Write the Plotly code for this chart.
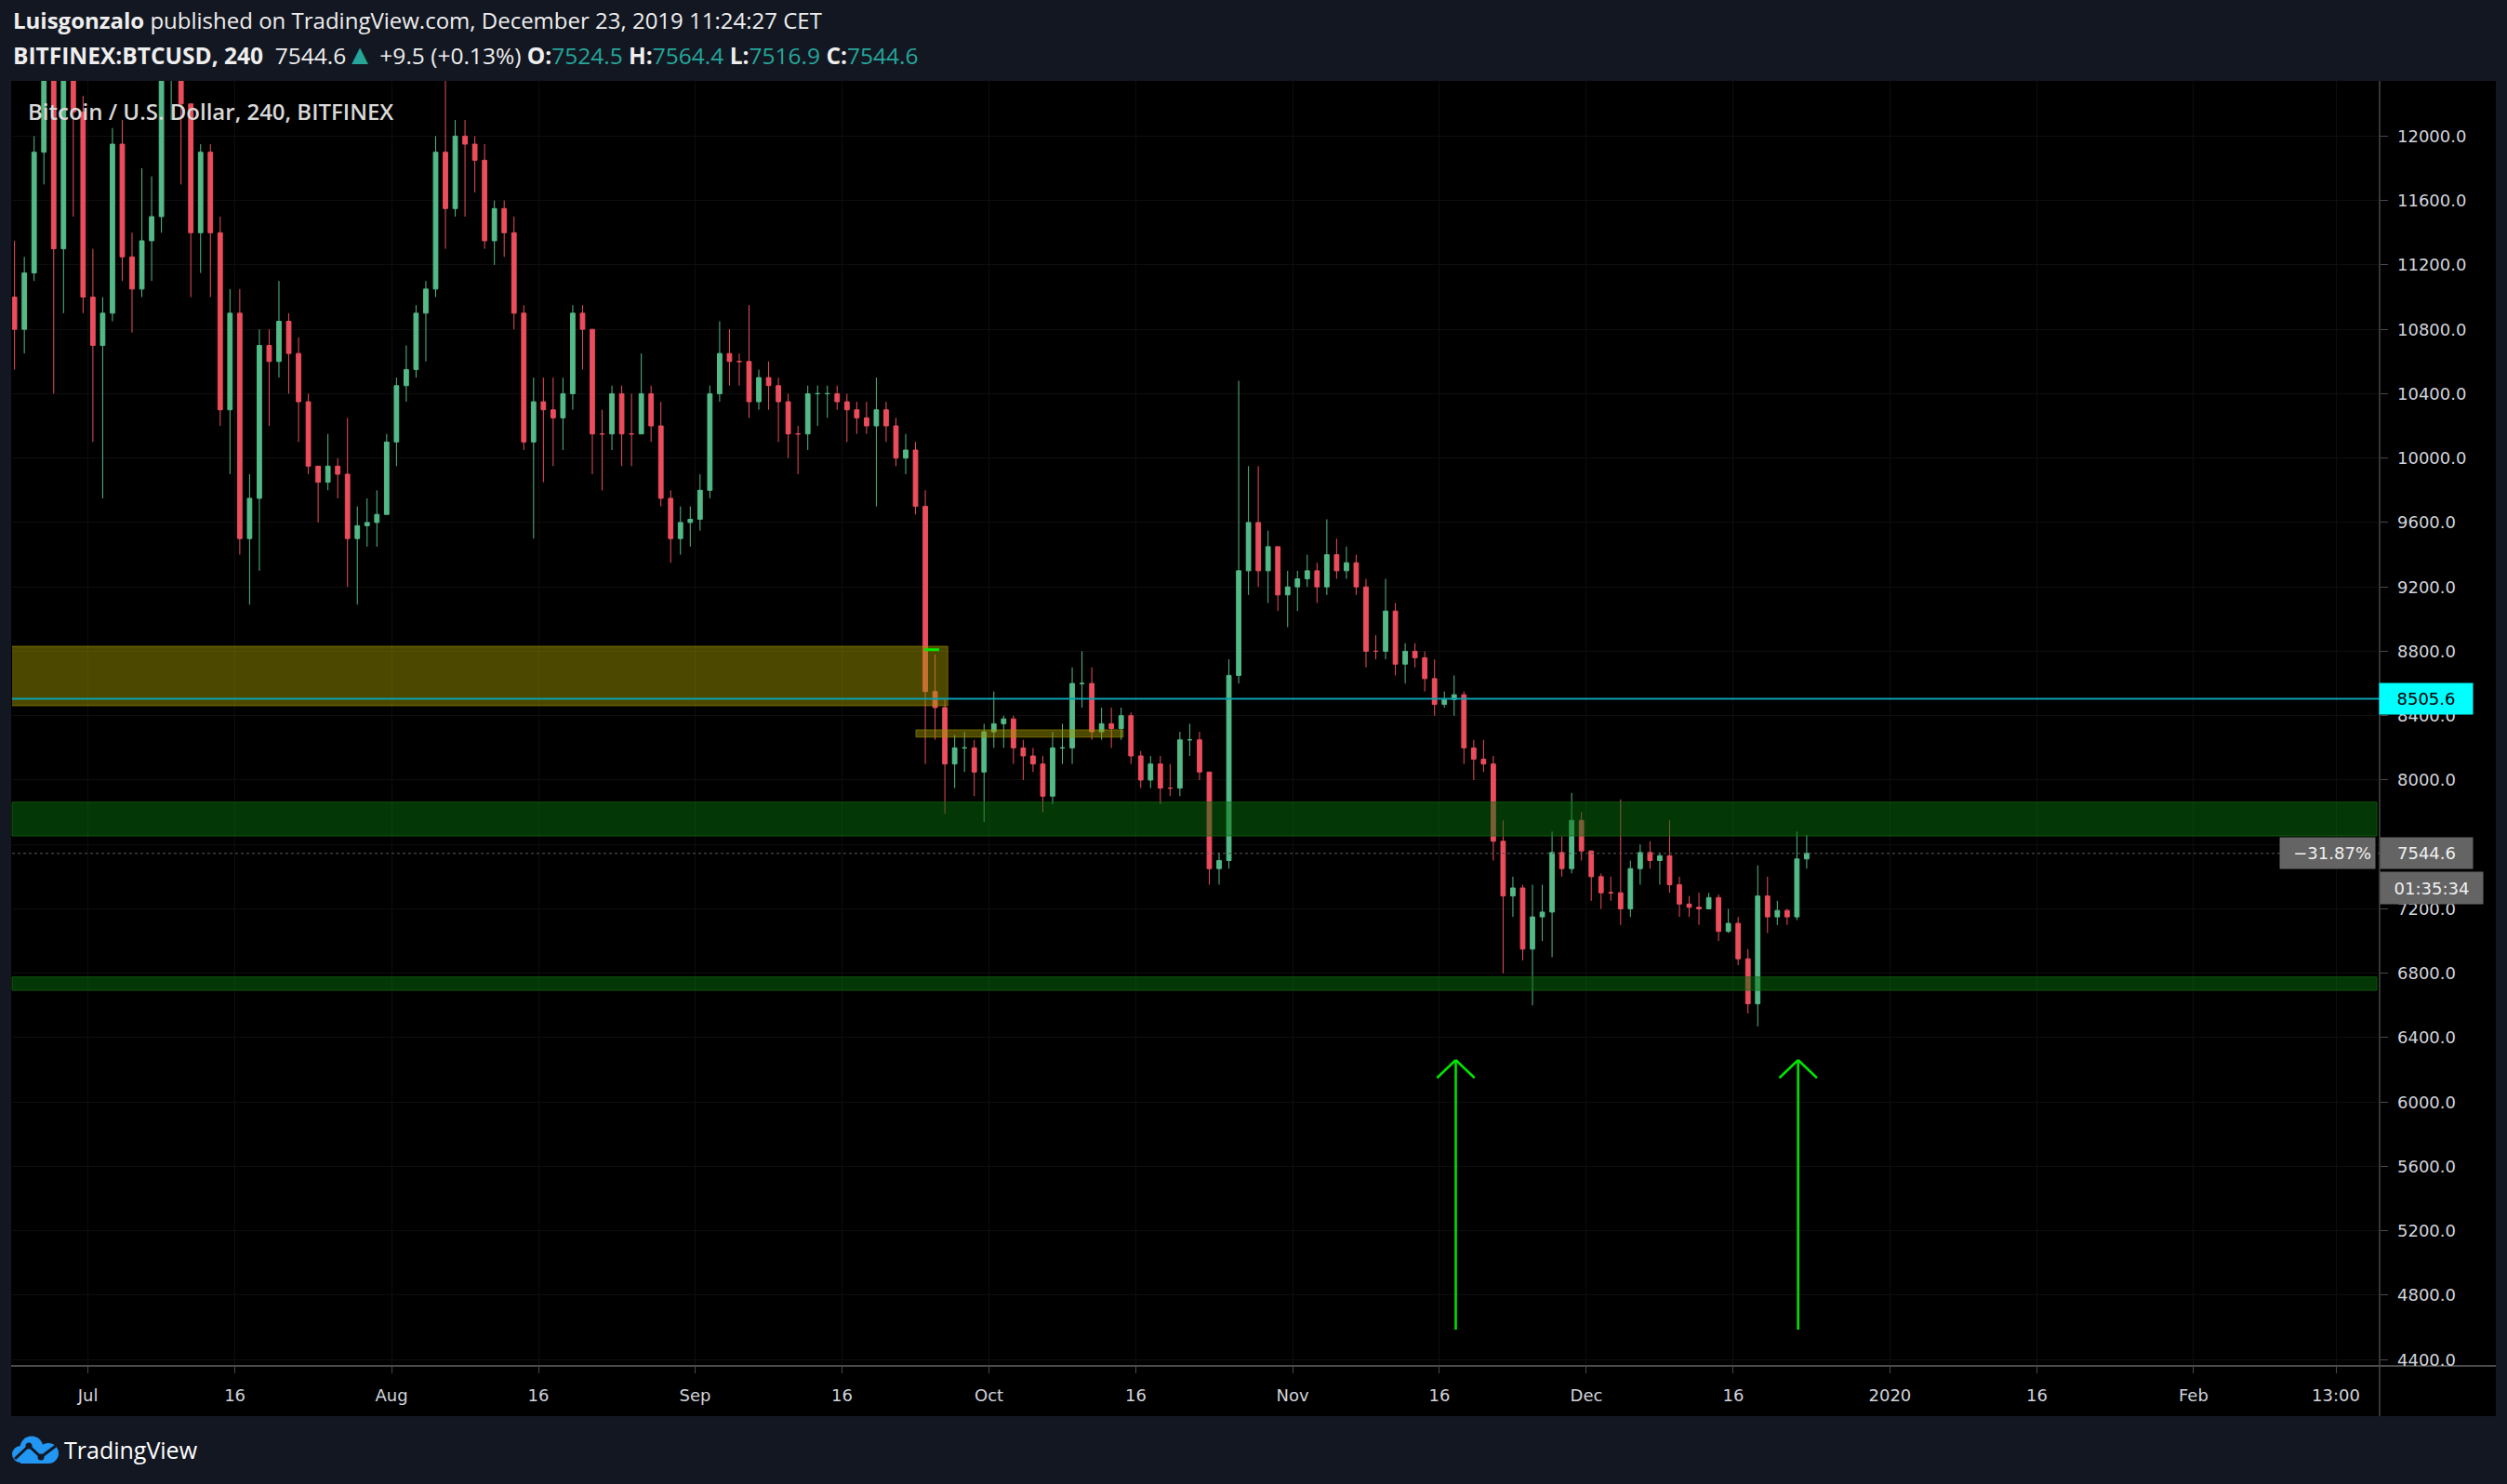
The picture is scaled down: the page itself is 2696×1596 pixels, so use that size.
import pandas as pd
import plotly.graph_objects as go

# ---------------- data (daily OHLC, BITFINEX BTCUSD) ----------------
OPEN_JUN = [11000, 10800, 11150, 11900, 12950, 11300, 12450, 12150]
HIGH_JUN = [11350, 11250, 12000, 13900, 13400, 12500, 12700, 12250]
LOW_JUN = [10550, 10650, 11100, 11700, 10400, 10900, 11500, 10900]
CLOSE_JUN = [10800, 11150, 11900, 12950, 11300, 12450, 12150, 11000]

OPEN_JUL = [11000, 10700, 10900, 11950, 11250, 11050, 11350, 11500, 12400, 12700, 12200, 11400, 11900, 11400, 10300, 10900,
            9500, 9750, 10700, 10600, 10850, 10650, 10350, 9950, 9850, 9950, 9900, 9500, 9580, 9600, 9650]
HIGH_JUL = [11300, 11000, 12050, 12100, 11400, 11800, 11750, 12500, 12900, 13300, 12200, 11950, 11950, 11500, 11050, 11050,
            9900, 10800, 10800, 11100, 10900, 10750, 10400, 9950, 10150, 10000, 10250, 9700, 9750, 9800, 10150]
LOW_JUL = [10100, 9750, 10850, 11100, 10780, 11000, 11100, 11400, 12100, 11700, 11000, 11150, 11000, 10200, 9900, 9400,
           9090, 9300, 10200, 10500, 10400, 10100, 9900, 9600, 9800, 9750, 9200, 9090, 9450, 9450, 9650]
CLOSE_JUL = [10700, 10900, 11950, 11250, 11050, 11350, 11500, 12400, 12700, 12200, 11400, 11900, 11400, 10300, 10900, 9500,
             9750, 10700, 10600, 10850, 10650, 10350, 9950, 9850, 9950, 9900, 9500, 9580, 9600, 9650, 10100]

OPEN_AUG = [10100, 10450, 10550, 10900, 11050, 11900, 11550, 12000, 11950, 11850, 11350, 11550, 11400, 10900, 10100, 10350,
            10300, 10250, 10400, 10900, 10800, 10150, 10150, 10400, 10150, 10150, 10400, 10200, 9750, 9500, 9600]
HIGH_AUG = [10500, 10700, 10950, 11100, 12000, 12450, 12100, 12100, 12000, 11950, 11600, 11600, 11500, 10950, 10500, 10500,
            10500, 10500, 10950, 10950, 10800, 10300, 10450, 10450, 10400, 10650, 10450, 10350, 9800, 9700, 9700]
LOW_AUG = [9950, 10350, 10500, 10600, 11000, 11300, 11500, 11500, 11650, 11300, 11200, 11250, 10800, 10050, 9500, 9850,
           9950, 10050, 10300, 10550, 9900, 9800, 10050, 9950, 9950, 10150, 10100, 9700, 9350, 9400, 9450]
CLOSE_AUG = [10450, 10550, 10900, 11050, 11900, 11550, 12000, 11950, 11850, 11350, 11550, 11400, 10900, 10100, 10350, 10300,
             10250, 10400, 10900, 10800, 10150, 10150, 10400, 10150, 10150, 10400, 10200, 9750, 9500, 9600, 9620]

OPEN_SEP = [9620, 9800, 10400, 10650, 10600, 10600, 10350, 10500, 10450, 10350, 10150, 10150, 10400, 10400, 10400,
            10350, 10300, 10250, 10200, 10300, 10200, 10000, 10050, 9700, 8550, 8450, 8100, 8200, 8200, 8050]
HIGH_SEP = [9900, 10450, 10850, 10800, 10650, 10950, 10550, 10600, 10500, 10400, 10200, 10450, 10450, 10450, 10450,
            10400, 10350, 10350, 10500, 10350, 10250, 10150, 10100, 9800, 8780, 8500, 8280, 8300, 8250, 8350]
LOW_SEP = [9550, 9750, 10350, 10450, 10450, 10250, 10300, 10300, 10100, 10000, 9900, 10050, 10200, 10250, 10300,
           10100, 10150, 10150, 9700, 10100, 9950, 9900, 9650, 8100, 8250, 7790, 7950, 8050, 7900, 7740]
CLOSE_SEP = [9800, 10400, 10650, 10600, 10600, 10350, 10500, 10450, 10350, 10150, 10150, 10400, 10400, 10400, 10350,
             10300, 10250, 10200, 10300, 10200, 10000, 10050, 9700, 8550, 8450, 8100, 8200, 8200, 8050, 8300]

OPEN_OCT = [8300, 8350, 8380, 8200, 8150, 8100, 7900, 8200, 8200, 8600, 8600, 8300, 8350, 8320, 8400, 8150,
            8000, 8100, 7950, 7950, 8250, 8250, 8050, 7450, 7500, 8650, 9300, 9600, 9300, 9450, 9150]
HIGH_OCT = [8550, 8400, 8400, 8250, 8200, 8150, 8300, 8350, 8700, 8800, 8700, 8450, 8450, 8450, 8420, 8180,
            8150, 8150, 8100, 8300, 8350, 8300, 8050, 7550, 8750, 10480, 9950, 9950, 9550, 9450, 9300]
LOW_OCT = [8200, 8200, 8100, 8000, 8050, 7800, 7850, 8100, 8100, 8450, 8250, 8250, 8200, 8250, 8100, 7950,
           7950, 7850, 7900, 7900, 8150, 8000, 7350, 7350, 7450, 8600, 9150, 9200, 9100, 9050, 8950]
CLOSE_OCT = [8350, 8380, 8200, 8150, 8100, 7900, 8200, 8200, 8600, 8600, 8300, 8350, 8320, 8400, 8150, 8000,
             8100, 7950, 7950, 8250, 8250, 8050, 7450, 7500, 8650, 9300, 9600, 9300, 9450, 9150, 9200]

OPEN_NOV = [9200, 9250, 9300, 9200, 9400, 9300, 9350, 9200, 8800, 8800, 9050, 8720, 8800, 8760, 8630,
            8470, 8500, 8530, 8200, 8130, 8100, 7620, 7280, 7330, 6950, 7150, 7180, 7550, 7450, 7750]
HIGH_NOV = [9300, 9400, 9350, 9620, 9500, 9450, 9400, 9250, 8900, 9250, 9100, 8850, 8850, 8800, 8750,
            8550, 8650, 8550, 8250, 8250, 8150, 7750, 7400, 7350, 7350, 7350, 7680, 7650, 7920, 7800]
LOW_NOV = [9050, 9200, 9100, 9150, 9250, 9250, 9150, 8700, 8750, 8750, 8650, 8600, 8700, 8550, 8400,
           8450, 8400, 8100, 8000, 8050, 7500, 6800, 7150, 6880, 6600, 7000, 6900, 7400, 7420, 7500]
CLOSE_NOV = [9250, 9300, 9200, 9400, 9300, 9350, 9200, 8800, 8800, 9050, 8720, 8800, 8760, 8630, 8470,
             8500, 8530, 8200, 8130, 8100, 7620, 7280, 7330, 6950, 7150, 7180, 7550, 7450, 7750, 7560]

OPEN_DEC = [7560, 7400, 7300, 7300, 7200, 7450, 7550, 7500, 7530, 7350, 7230, 7210, 7200, 7270, 7060, 7110,
            6890, 6610, 7280, 7150, 7190, 7150, 7510]
HIGH_DEC = [7560, 7420, 7400, 7880, 7500, 7600, 7620, 7550, 7750, 7400, 7280, 7300, 7300, 7290, 7200, 7150,
            6950, 7470, 7400, 7250, 7200, 7680, 7660]
LOW_DEC = [7250, 7200, 7250, 7100, 7150, 7350, 7450, 7350, 7300, 7150, 7150, 7100, 7200, 7000, 7050, 6850,
           6550, 6470, 7050, 7100, 7100, 7130, 7450]
CLOSE_DEC = [7400, 7300, 7300, 7200, 7450, 7550, 7500, 7530, 7350, 7230, 7210, 7200, 7270, 7060, 7110, 6890,
             6610, 7280, 7150, 7190, 7150, 7510, 7544.6]

FIRST_DAY, LAST_DAY = "2019-06-23", "2019-12-23"

Y_TICKS = [4400, 4800, 5200, 5600, 6000, 6400, 6800, 7200, 7600, 8000, 8400, 8800, 9200, 9600,
           10000, 10400, 10800, 11200, 11600, 12000]
Y_TICK_LABELS = ["4400.0", "4800.0", "5200.0", "5600.0", "6000.0", "6400.0", "6800.0", "7200.0", "7600.0",
                 "8000.0", "8400.0", "8800.0", "9200.0", "9600.0", "10000.0", "10400.0", "10800.0", "11200.0",
                 "11600.0", "12000.0"]
X_TICKS = ["2019-07-01", "2019-07-16", "2019-08-01", "2019-08-16", "2019-09-01", "2019-09-16", "2019-10-01",
           "2019-10-16", "2019-11-01", "2019-11-16", "2019-12-01", "2019-12-16", "2020-01-01", "2020-01-16",
           "2020-02-01", "2020-02-15 13:00"]
X_TICK_LABELS = ["Jul", "16", "Aug", "16", "Sep", "16", "Oct", "16", "Nov", "16", "Dec", "16", "2020", "16",
                 "Feb", "13:00"]

# drawings on the chart
RES_LEVEL = 8505.6
LAST_PRICE = 7544.6
YELLOW_BOX = ["2019-06-20", "2019-09-26 19:00", 8462, 8831]
YELLOW_STRIP = ["2019-09-23 13:00", "2019-10-14 17:00", 8267, 8312]
GREEN_MARK = ["2019-09-24 10:00", "2019-09-25 22:00", 8810]
GREEN_BANDS = [[7653, 7863], [6694, 6777]]
ARROW_X = ["2019-11-17 16:00", "2019-12-22 15:00"]
ARROW_TIP, ARROW_TAIL, ARROW_WING = 6261, 4586, 6150

OPEN = OPEN_JUN + OPEN_JUL + OPEN_AUG + OPEN_SEP + OPEN_OCT + OPEN_NOV + OPEN_DEC
HIGH = HIGH_JUN + HIGH_JUL + HIGH_AUG + HIGH_SEP + HIGH_OCT + HIGH_NOV + HIGH_DEC
LOW = LOW_JUN + LOW_JUL + LOW_AUG + LOW_SEP + LOW_OCT + LOW_NOV + LOW_DEC
CLOSE = CLOSE_JUN + CLOSE_JUL + CLOSE_AUG + CLOSE_SEP + CLOSE_OCT + CLOSE_NOV + CLOSE_DEC
DATES = pd.date_range(FIRST_DAY, LAST_DAY, freq="D") + pd.Timedelta(hours=12)

# ---------------- layout geometry ----------------
W, H = 2696, 1596
PL, PR, PT, PB = 13, 2559, 87, 1469


def px_x(px):
    return (px - PL) / (PR - PL)


def px_y(py):
    return (PB - py) / (PB - PT)


UP, DOWN = "#53b987", "#eb4d5c"
TEAL = "#26a69a"
TXT = "#d1d4dc"

fig = go.Figure()
fig.add_trace(go.Candlestick(
    x=DATES, open=OPEN, high=HIGH, low=LOW, close=CLOSE,
    increasing=dict(line=dict(color=UP, width=1), fillcolor=UP),
    decreasing=dict(line=dict(color=DOWN, width=1), fillcolor=DOWN),
    whiskerwidth=0, hoverinfo="skip", showlegend=False,
))

shapes = []
# chart black panel
shapes.append(dict(type="rect", xref="paper", yref="paper", x0=px_x(12), x1=px_x(2684), y0=px_y(1523), y1=1,
                   fillcolor="#000000", line=dict(width=0), layer="below"))
# axis lines
shapes.append(dict(type="line", xref="paper", yref="paper", x0=1, x1=1, y0=px_y(1523), y1=1,
                   line=dict(color="#363636", width=2)))
shapes.append(dict(type="line", xref="paper", yref="paper", x0=px_x(12), x1=px_x(2684), y0=0, y1=0,
                   line=dict(color="#4a4a4a", width=2)))
# zones
shapes.append(dict(type="rect", xref="x", yref="y", x0=YELLOW_BOX[0], x1=YELLOW_BOX[1], y0=YELLOW_BOX[2],
                   y1=YELLOW_BOX[3], fillcolor="rgba(160,150,0,0.48)", line=dict(color="rgba(160,150,0,0.6)", width=1),
                   layer="above"))
shapes.append(dict(type="rect", xref="x", yref="y", x0=YELLOW_STRIP[0], x1=YELLOW_STRIP[1], y0=YELLOW_STRIP[2],
                   y1=YELLOW_STRIP[3], fillcolor="rgba(160,150,0,0.48)", line=dict(color="rgba(160,150,0,0.6)", width=1),
                   layer="above"))
for lo, hi in GREEN_BANDS:
    shapes.append(dict(type="rect", xref="paper", yref="y", x0=0, x1=px_x(2556), y0=lo, y1=hi,
                       fillcolor="rgba(8,110,12,0.5)", line=dict(color="rgba(20,110,20,0.7)", width=1),
                       layer="above"))
shapes.append(dict(type="line", xref="x", yref="y", x0=GREEN_MARK[0], x1=GREEN_MARK[1], y0=GREEN_MARK[2],
                   y1=GREEN_MARK[2], line=dict(color="#00e600", width=3)))
# horizontal levels
shapes.append(dict(type="line", xref="paper", yref="y", x0=0, x1=1, y0=RES_LEVEL, y1=RES_LEVEL,
                   line=dict(color="#0aa0ad", width=2)))
shapes.append(dict(type="line", xref="paper", yref="y", x0=0, x1=1, y0=LAST_PRICE, y1=LAST_PRICE,
                   line=dict(color="#5a5a5a", width=1, dash="dot")))
# arrows
wing = pd.Timedelta(hours=46)
for ax in ARROW_X:
    t = pd.Timestamp(ax)
    green = dict(color="#00e600", width=2.5)
    shapes.append(dict(type="line", xref="x", yref="y", x0=t, x1=t, y0=ARROW_TAIL, y1=ARROW_TIP, line=green))
    shapes.append(dict(type="line", xref="x", yref="y", x0=t - wing, x1=t, y0=ARROW_WING, y1=ARROW_TIP, line=green))
    shapes.append(dict(type="line", xref="x", yref="y", x0=t + wing, x1=t, y0=ARROW_WING, y1=ARROW_TIP, line=green))

# TradingView cloud logo
BLUE = "#2196f3"
NAVY = "#131722"


def circ(cx, cy, r, color):
    return dict(type="circle", xref="paper", yref="paper", x0=px_x(cx - r), x1=px_x(cx + r),
                y0=px_y(cy + r), y1=px_y(cy - r), fillcolor=color, line=dict(width=0))


shapes += [circ(22, 1564, 9, BLUE), circ(34, 1557, 12.5, BLUE), circ(52, 1563, 11, BLUE),
           dict(type="rect", xref="paper", yref="paper", x0=px_x(22), x1=px_x(52), y0=px_y(1574), y1=px_y(1562),
                fillcolor=BLUE, line=dict(width=0))]
pts = [(16, 1569), (31, 1555), (44, 1567), (60, 1555)]
path = "M " + " L ".join(f"{px_x(a)},{px_y(b)}" for a, b in pts)
shapes.append(dict(type="path", xref="paper", yref="paper", path=path, line=dict(color=NAVY, width=3)))
shapes += [circ(31, 1555, 3.5, NAVY), circ(44, 1567, 3.5, NAVY)]

ann = []
# price-scale tick labels (left aligned, as on TradingView)
for v, t in zip(Y_TICKS, Y_TICK_LABELS):
    ann.append(dict(xref="paper", yref="y", x=px_x(2576), y=v, xanchor="left", yanchor="middle", showarrow=False,
                    text=t, align="left", font=dict(family="DejaVu Sans", size=18, color=TXT)))
ann.append(dict(xref="paper", yref="paper", x=px_x(12), y=px_y(22), xanchor="left", yanchor="middle",
                showarrow=False, font=dict(family="Open Sans", size=24, color="#eeeeee"),
                text="<b>Luisgonzalo</b> published on TradingView.com, December 23, 2019 11:24:27 CET"))
ann.append(dict(xref="paper", yref="paper", x=px_x(12), y=px_y(57), xanchor="left", yanchor="middle",
                showarrow=False, font=dict(family="Open Sans", size=24.5, color="#eeeeee"),
                text=("<b>BITFINEX:BTCUSD, 240</b>  7544.6<span style='color:%s;font-size:30px'>▲</span> +9.5 (+0.13%%) "
                      "<b>O:</b><span style='color:%s'>7524.5</span> <b>H:</b><span style='color:%s'>7564.4</span> "
                      "<b>L:</b><span style='color:%s'>7516.9</span> <b>C:</b><span style='color:%s'>7544.6</span>")
                % (TEAL, TEAL, TEAL, TEAL, TEAL)))
ann.append(dict(xref="paper", yref="paper", x=px_x(28), y=px_y(119), xanchor="left", yanchor="middle",
                showarrow=False, font=dict(family="Open Sans", size=24, color="#d8d8d8", weight=600),
                text="Bitcoin / U.S. Dollar, 240, BITFINEX"))
ann.append(dict(xref="paper", yref="paper", x=px_x(67), y=px_y(1559), xanchor="left", yanchor="middle",
                showarrow=False, font=dict(family="Open Sans", size=25, color="#ffffff"), text="TradingView"))
# price scale labels
lab_font = dict(family="DejaVu Sans", size=18, color="#000000")
ann.append(dict(xref="paper", yref="y", x=px_x(2558), y=RES_LEVEL, xanchor="left", yanchor="middle",
                showarrow=False, text="8505.6", font=lab_font, bgcolor="#00ffff", width=92, height=25,
                borderpad=4, align="center"))
ann.append(dict(xref="paper", yref="y", x=px_x(2559), y=LAST_PRICE, xanchor="left", yanchor="middle",
                showarrow=False, text="7544.6", font=dict(family="DejaVu Sans", size=18, color="#f0f0f0"),
                bgcolor="#646464", width=91, height=25, borderpad=4, align="center"))
ann.append(dict(xref="paper", yref="y", x=px_x(2555), y=LAST_PRICE, xanchor="right", yanchor="middle",
                showarrow=False, text="−31.87%", font=dict(family="DejaVu Sans", size=18, color="#f0f0f0"),
                bgcolor="#646464", width=94, height=25, borderpad=4, align="right"))
ann.append(dict(xref="paper", yref="y", x=px_x(2559), y=LAST_PRICE, yshift=-37, xanchor="left", yanchor="middle",
                showarrow=False, text="01:35:34", font=dict(family="DejaVu Sans", size=18, color="#f0f0f0"),
                bgcolor="#646464", width=102, height=26, borderpad=4, align="center"))

fig.update_layout(
    width=W, height=H,
    margin=dict(l=PL, r=W - PR, t=PT, b=H - PB, pad=0),
    paper_bgcolor=NAVY, plot_bgcolor="#000000",
    boxgap=0.35,
    shapes=shapes, annotations=ann,
    showlegend=False,
    xaxis=dict(type="date", range=["2019-06-23 06:00", "2020-02-20 00:00"], tickvals=X_TICKS,
               ticktext=X_TICK_LABELS, showgrid=True, gridcolor="#0e0e0e", gridwidth=1, zeroline=False,
               ticks="outside", ticklen=7, tickcolor="#4a4a4a", tickwidth=1, showline=False,
               tickfont=dict(family="DejaVu Sans", size=18, color=TXT), ticklabelstandoff=8,
               rangeslider=dict(visible=False), fixedrange=True),
    yaxis=dict(side="right", range=[4361, 12343], tickvals=Y_TICKS, showticklabels=False, showgrid=True,
               gridcolor="#0e0e0e", gridwidth=1, zeroline=False, ticks="outside", ticklen=8,
               tickcolor="#4a4a4a", tickwidth=1, showline=False, fixedrange=True),
)

fig.write_html("out.html", config={"displayModeBar": False},
               post_script="document.body.style.margin='0';document.body.style.overflow='hidden';")
